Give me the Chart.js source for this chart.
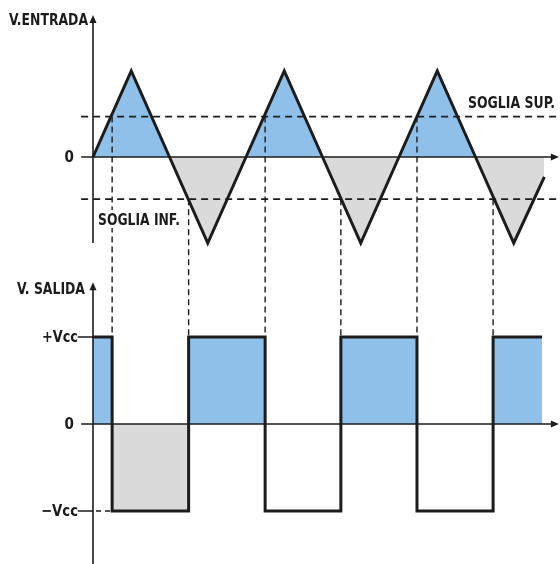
<!DOCTYPE html>
<html>
<head>
<meta charset="utf-8">
<script src="https://cdn.jsdelivr.net/npm/chart.js@4.4.1/dist/chart.umd.min.js"></script>
<style>
  html, body { margin: 0; padding: 0; background: #fff; }
  #wrap { width: 560px; height: 564px; }
</style>
</head>
<body>
<div id="wrap"><canvas id="schmitt" width="560" height="564"></canvas></div>
<script>
// tiempo en cuartos de periodo, tension en unidades de pico
const tEntrada = [0, 1, 2, 3, 4, 5, 6, 7, 8, 9, 10, 11, 11.8];
const vEntrada = [0, 1, 0, -1, 0, 1, 0, -1, 0, 1, 0, -1, -0.23];

const sogliaSup = 0.47;
const sogliaInf = -0.49;

// instantes de conmutacion y umbral que la provoca
const tConmuta = [0.5, 2.5, 4.5, 6.48, 8.47, 10.46];
const umbralConmuta = [sogliaSup, sogliaInf, sogliaSup, sogliaInf, sogliaSup, sogliaInf];

// salida en unidades de Vcc
const tSalida = [0, 0.5, 0.5, 2.5, 2.5, 4.5, 4.5, 6.48, 6.48, 8.47, 8.47, 10.46, 10.46, 11.74];
const vSalida = [1, 1, -1, -1, 1, 1, -1, -1, 1, 1, -1, -1, 1, 1];

// primer tramo negativo (sombreado gris)
const tGris = [0.5, 2.5];
const vGris = [-1, -1];

const AZUL = 'rgb(142, 192, 234)';
const GRIS = 'rgb(218, 218, 218)';
const NEGRO = '#1c1c1c';
const FAMILIA = "'Liberation Sans Narrow', 'DejaVu Sans Condensed', 'Arial Narrow', sans-serif";

const pares = (xs, ys) => xs.map((t, i) => ({ x: t, y: ys[i] }));

const flecha = (ctx, x, y, dir) => {
  ctx.beginPath();
  if (dir === 'up') {
    ctx.moveTo(x, y);
    ctx.lineTo(x - 3.5, y + 8);
    ctx.lineTo(x + 3.5, y + 8);
  } else {
    ctx.moveTo(x, y);
    ctx.lineTo(x - 8, y - 3.5);
    ctx.lineTo(x - 8, y + 3.5);
  }
  ctx.closePath();
  ctx.fill();
};

const texto = (ctx, str, px, py, size, align, base, maxW, fondo) => {
  ctx.font = `bold ${size}px ${FAMILIA}`;
  ctx.textAlign = align;
  ctx.textBaseline = base;
  if (fondo) {
    const w = Math.min(ctx.measureText(str).width, maxW);
    ctx.fillStyle = '#fff';
    ctx.fillRect(align === 'left' ? px - 2 : px - w - 2, py - size, w + 4, size + 3);
  }
  ctx.fillStyle = NEGRO;
  ctx.fillText(str, px, py, maxW);
};

const decorado = {
  id: 'decorado',
  afterDatasetsDraw(chart) {
    const { ctx, scales: { x, yIn, yOut } } = chart;
    const x0 = x.getPixelForValue(0);
    ctx.save();
    ctx.strokeStyle = NEGRO;
    ctx.fillStyle = NEGRO;

    // ejes verticales
    ctx.lineWidth = 1.6;
    ctx.beginPath();
    ctx.moveTo(x0, yIn.getPixelForValue(1.58));
    ctx.lineTo(x0, yIn.getPixelForValue(-1.0));
    ctx.moveTo(x0, yOut.getPixelForValue(1.58));
    ctx.lineTo(x0, chart.height);
    ctx.stroke();
    flecha(ctx, x0, yIn.getPixelForValue(1.65), 'up');
    flecha(ctx, x0, yOut.getPixelForValue(1.63), 'up');

    // lineas de cero
    const xa = x.getPixelForValue(-0.31);
    const xb = x.getPixelForValue(12.18);
    [yIn.getPixelForValue(0), yOut.getPixelForValue(0)].forEach((py) => {
      ctx.beginPath();
      ctx.moveTo(xa, py);
      ctx.lineTo(xb - 4, py);
      ctx.stroke();
      flecha(ctx, xb, py, 'right');
    });

    // marcas +Vcc / -Vcc
    const xt = x.getPixelForValue(-0.4);
    ctx.beginPath();
    ctx.moveTo(xt, yOut.getPixelForValue(1));
    ctx.lineTo(x0, yOut.getPixelForValue(1));
    ctx.moveTo(xt, yOut.getPixelForValue(-1));
    ctx.lineTo(x0, yOut.getPixelForValue(-1));
    ctx.stroke();
    ctx.setLineDash([5, 4]);
    ctx.beginPath();
    ctx.moveTo(x0 + 3, yOut.getPixelForValue(-1));
    ctx.lineTo(x.getPixelForValue(tConmuta[0]), yOut.getPixelForValue(-1));
    ctx.stroke();

    // verticales de conmutacion
    ctx.lineWidth = 1.4;
    ctx.setLineDash([6, 4]);
    tConmuta.forEach((t, i) => {
      const px = x.getPixelForValue(t);
      ctx.beginPath();
      ctx.moveTo(px, yIn.getPixelForValue(umbralConmuta[i]));
      ctx.lineTo(px, yOut.getPixelForValue(1));
      ctx.stroke();
    });
    ctx.setLineDash([]);

    // textos
    texto(ctx, 'V.ENTRADA', 88, 25, 16, 'right', 'alphabetic', 79);
    texto(ctx, '0', 74, yIn.getPixelForValue(0) + 1, 15, 'right', 'middle', 20);
    texto(ctx, 'SOGLIA INF.', 98, 225, 15, 'left', 'alphabetic', 82, true);
    texto(ctx, 'SOGLIA SUP.', 468, 108, 15, 'left', 'alphabetic', 87);
    texto(ctx, 'V. SALIDA', 85, 294, 16, 'right', 'alphabetic', 68);
    texto(ctx, '+Vcc', 78, yOut.getPixelForValue(1) + 1, 16, 'right', 'middle', 36);
    texto(ctx, '0', 74, yOut.getPixelForValue(0) + 1, 15, 'right', 'middle', 20);
    texto(ctx, '\u2212Vcc', 78, yOut.getPixelForValue(-1) + 1, 16, 'right', 'middle', 37);
    ctx.restore();
  },
};

const umbral = (v) => ({
  data: [{ x: -0.31, y: v }, { x: 12.3, y: v }],
  yAxisID: 'yIn',
  borderColor: NEGRO,
  borderWidth: 1.6,
  borderDash: [7, 5],
  pointRadius: 0,
  fill: false,
});

new Chart(document.getElementById('schmitt'), {
  type: 'line',
  data: {
    datasets: [
      {
        data: pares(tEntrada, vEntrada),
        yAxisID: 'yIn',
        borderColor: NEGRO,
        borderWidth: 3,
        borderJoinStyle: 'miter',
        pointRadius: 0,
        tension: 0,
        fill: { target: 'origin', above: AZUL, below: GRIS },
      },
      umbral(sogliaSup),
      umbral(sogliaInf),
      {
        data: pares(tGris, vGris),
        yAxisID: 'yOut',
        borderWidth: 0,
        borderColor: 'rgba(0,0,0,0)',
        pointRadius: 0,
        fill: { target: 'origin', above: GRIS, below: GRIS },
      },
      {
        data: pares(tSalida, vSalida),
        yAxisID: 'yOut',
        borderColor: NEGRO,
        borderWidth: 3,
        borderJoinStyle: 'miter',
        pointRadius: 0,
        tension: 0,
        fill: { target: 'origin', above: AZUL, below: 'rgba(0,0,0,0)' },
      },
    ],
  },
  options: {
    responsive: false,
    animation: false,
    devicePixelRatio: 1,
    layout: { padding: 0 },
    scales: {
      x: { type: 'linear', min: -93 / 38.25, max: 467 / 38.25, display: false },
      yIn: { type: 'linear', position: 'left', min: -407 / 86, max: 157 / 86, display: false },
      yOut: { type: 'linear', position: 'left', min: -140 / 87, max: 424 / 87, display: false },
    },
    plugins: {
      legend: { display: false },
      tooltip: { enabled: false },
      filler: { drawTime: 'beforeDatasetsDraw' },
    },
  },
  plugins: [decorado],
});
</script>
</body>
</html>
